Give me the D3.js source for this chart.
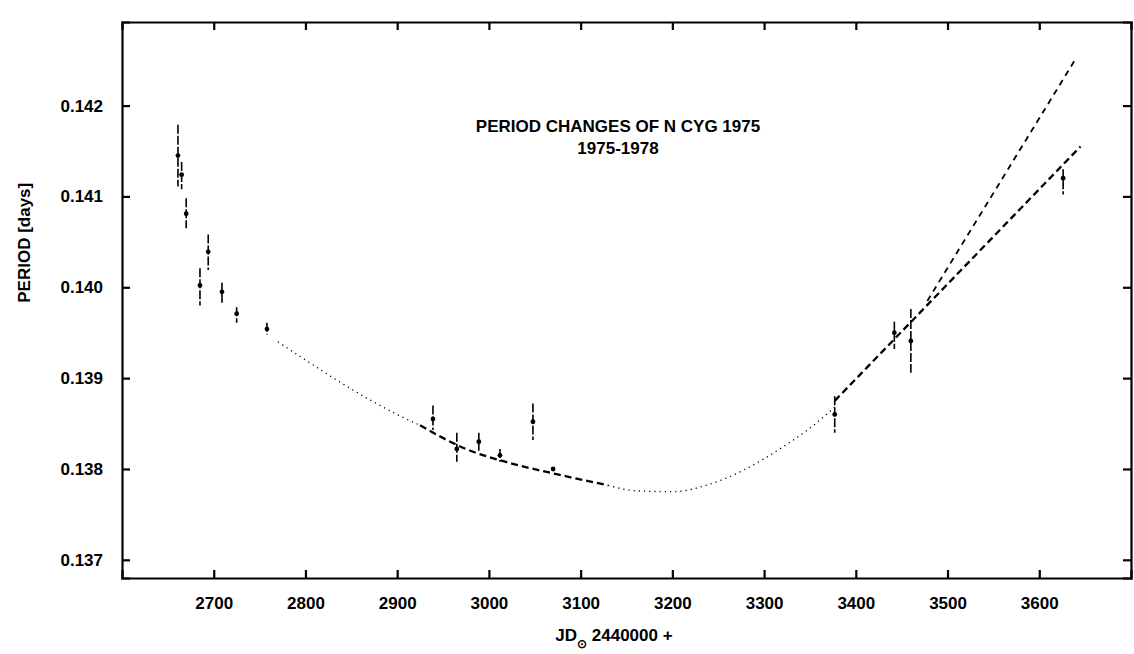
<!DOCTYPE html>
<html>
<head>
<meta charset="utf-8">
<script src="https://cdn.jsdelivr.net/npm/d3@7"></script>
<style>
  html, body { margin: 0; padding: 0; background: #fff; }
  svg { display: block; font-family: "Liberation Sans", Arial, sans-serif; }
</style>
</head>
<body>
<svg id="chart" width="1134" height="654"></svg>
<script>
// ---- data ----
const jd      = [2661, 2665, 2670, 2685, 2694, 2709, 2725, 2758, 2939, 2965, 2989, 3012, 3048, 3070, 3377, 3442, 3460, 3626];
const period  = [0.14145, 0.14124, 0.14081, 0.14002, 0.14039, 0.13995, 0.13971, 0.13954, 0.13855, 0.13822, 0.13830, 0.13815, 0.13852, 0.13800, 0.13860, 0.13950, 0.13941, 0.14120];
const errHigh = [0.14179, 0.14138, 0.14098, 0.14021, 0.14058, 0.14005, 0.13978, 0.13961, 0.13870, 0.13840, 0.13840, 0.13822, 0.13872, 0.13802, 0.13880, 0.13962, 0.13976, 0.14130];
const errLow  = [0.14111, 0.14108, 0.14065, 0.13980, 0.14019, 0.13983, 0.13961, 0.13948, 0.13843, 0.13808, 0.13820, 0.13808, 0.13832, 0.13798, 0.13840, 0.13932, 0.13906, 0.14102];

// dotted curve (overall fit)
const dotLeftJD  = [2770, 2800, 2850, 2900, 2925];
const dotLeftP   = [0.13940, 0.13920, 0.13888, 0.13860, 0.13848];
const dotRightJD = [3130, 3160, 3200, 3240, 3280, 3320, 3350, 3377];
const dotRightP  = [0.13782, 0.13776, 0.13775, 0.13783, 0.13800, 0.13824, 0.13845, 0.13868];
// dashed local fit (middle)
const midJD = [2925, 2975, 3025, 3075, 3130];
const midP  = [0.13848, 0.13822, 0.13806, 0.13794, 0.13782];
// dashed linear fits (right)
const lineBJD = [3377, 3645];
const lineBP  = [0.13875, 0.14155];
const lineAJD = [3478, 3640];
const lineAP  = [0.13985, 0.14252];

const xTicks = [2700, 2800, 2900, 3000, 3100, 3200, 3300, 3400, 3500, 3600];
const yTicks = [0.137, 0.138, 0.139, 0.140, 0.141, 0.142];
const titleLines = ["PERIOD CHANGES OF N CYG 1975", "1975-1978"];
const yTitle = "PERIOD [days]";

// ---- layout ----
const L = 122, R = 1131, T = 22, B = 578;
const svg = d3.select("#chart");
const x = d3.scaleLinear().domain([2600, 3700]).range([L, R]);
const y = d3.scaleLinear().domain([0.1368, 0.14292]).range([B, T]);

// axes (inward ticks on all four sides)
const fmtY = d3.format(".3f");
const axB = svg.append("g").attr("transform", `translate(0,${B})`)
  .call(d3.axisBottom(x).tickValues(xTicks).tickSize(-8).tickPadding(19).tickFormat(d3.format("d")));
const axT = svg.append("g").attr("transform", `translate(0,${T})`)
  .call(d3.axisTop(x).tickValues(xTicks).tickSize(-8).tickFormat(""));
const axL = svg.append("g").attr("transform", `translate(${L},0)`)
  .call(d3.axisLeft(y).tickValues(yTicks).tickSize(-8).tickPadding(19).tickFormat(fmtY));
const axR = svg.append("g").attr("transform", `translate(${R},0)`)
  .call(d3.axisRight(y).tickValues(yTicks).tickSize(-8).tickFormat(""));
[axB, axT, axL, axR].forEach(g => {
  g.select(".domain").attr("stroke", "#000").attr("stroke-width", 2.2);
  g.selectAll(".tick line").attr("stroke", "#000").attr("stroke-width", 2.2);
  g.selectAll(".tick text").attr("fill", "#000").attr("font-size", 17).attr("font-weight", "bold")
    .attr("font-family", "'Liberation Sans', Arial, sans-serif");
});

// axis titles
svg.append("text")
  .attr("transform", `translate(26,${y(0.14049)}) rotate(-90)`)
  .attr("text-anchor", "middle").attr("dominant-baseline", "middle")
  .attr("font-size", 17).attr("font-weight", "bold").text(yTitle);

const xt = svg.append("text").attr("x", 614).attr("y", 641)
  .attr("text-anchor", "middle").attr("font-size", 17).attr("font-weight", "bold");
xt.append("tspan").text("JD");
xt.append("tspan").attr("dy", 7).attr("font-size", 12).text("\u2299");
xt.append("tspan").attr("dy", -7).text(" 2440000 +");

// title
svg.append("g").selectAll("text").data(titleLines).join("text")
  .attr("x", 618).attr("y", (d, i) => 132 + i * 22)
  .attr("text-anchor", "middle").attr("font-size", 17).attr("font-weight", "bold")
  .text(d => d);

// curves
const line = d3.line().x(d => x(d[0])).y(d => y(d[1])).curve(d3.curveMonotoneX);
const zip = (a, b) => a.map((v, i) => [v, b[i]]);
svg.append("path").datum(zip(dotLeftJD, dotLeftP)).attr("d", line)
  .attr("fill", "none").attr("stroke", "#000").attr("stroke-width", 1.3).attr("stroke-dasharray", "1.2,4");
svg.append("path").datum(zip(dotRightJD, dotRightP)).attr("d", line)
  .attr("fill", "none").attr("stroke", "#000").attr("stroke-width", 1.3).attr("stroke-dasharray", "1.2,4");
svg.append("path").datum(zip(midJD, midP)).attr("d", line)
  .attr("fill", "none").attr("stroke", "#000").attr("stroke-width", 2.3).attr("stroke-dasharray", "7,4");
svg.append("path").datum(zip(lineBJD, lineBP)).attr("d", d3.line().x(d => x(d[0])).y(d => y(d[1])))
  .attr("fill", "none").attr("stroke", "#000").attr("stroke-width", 2.3).attr("stroke-dasharray", "7,4");
svg.append("path").datum(zip(lineAJD, lineAP)).attr("d", d3.line().x(d => x(d[0])).y(d => y(d[1])))
  .attr("fill", "none").attr("stroke", "#000").attr("stroke-width", 1.8).attr("stroke-dasharray", "6,5");

// error bars and points
const pts = jd.map((d, i) => ({ jd: d, p: period[i], hi: errHigh[i], lo: errLow[i] }));
svg.append("g").selectAll("line").data(pts).join("line")
  .attr("x1", d => x(d.jd)).attr("x2", d => x(d.jd))
  .attr("y1", d => y(d.hi)).attr("y2", d => y(d.lo))
  .attr("stroke", "#000").attr("stroke-width", 1.6).attr("stroke-dasharray", "9,2");
svg.append("g").selectAll("circle").data(pts).join("circle")
  .attr("cx", d => x(d.jd)).attr("cy", d => y(d.p)).attr("r", 2.4).attr("fill", "#000");
</script>
</body>
</html>
